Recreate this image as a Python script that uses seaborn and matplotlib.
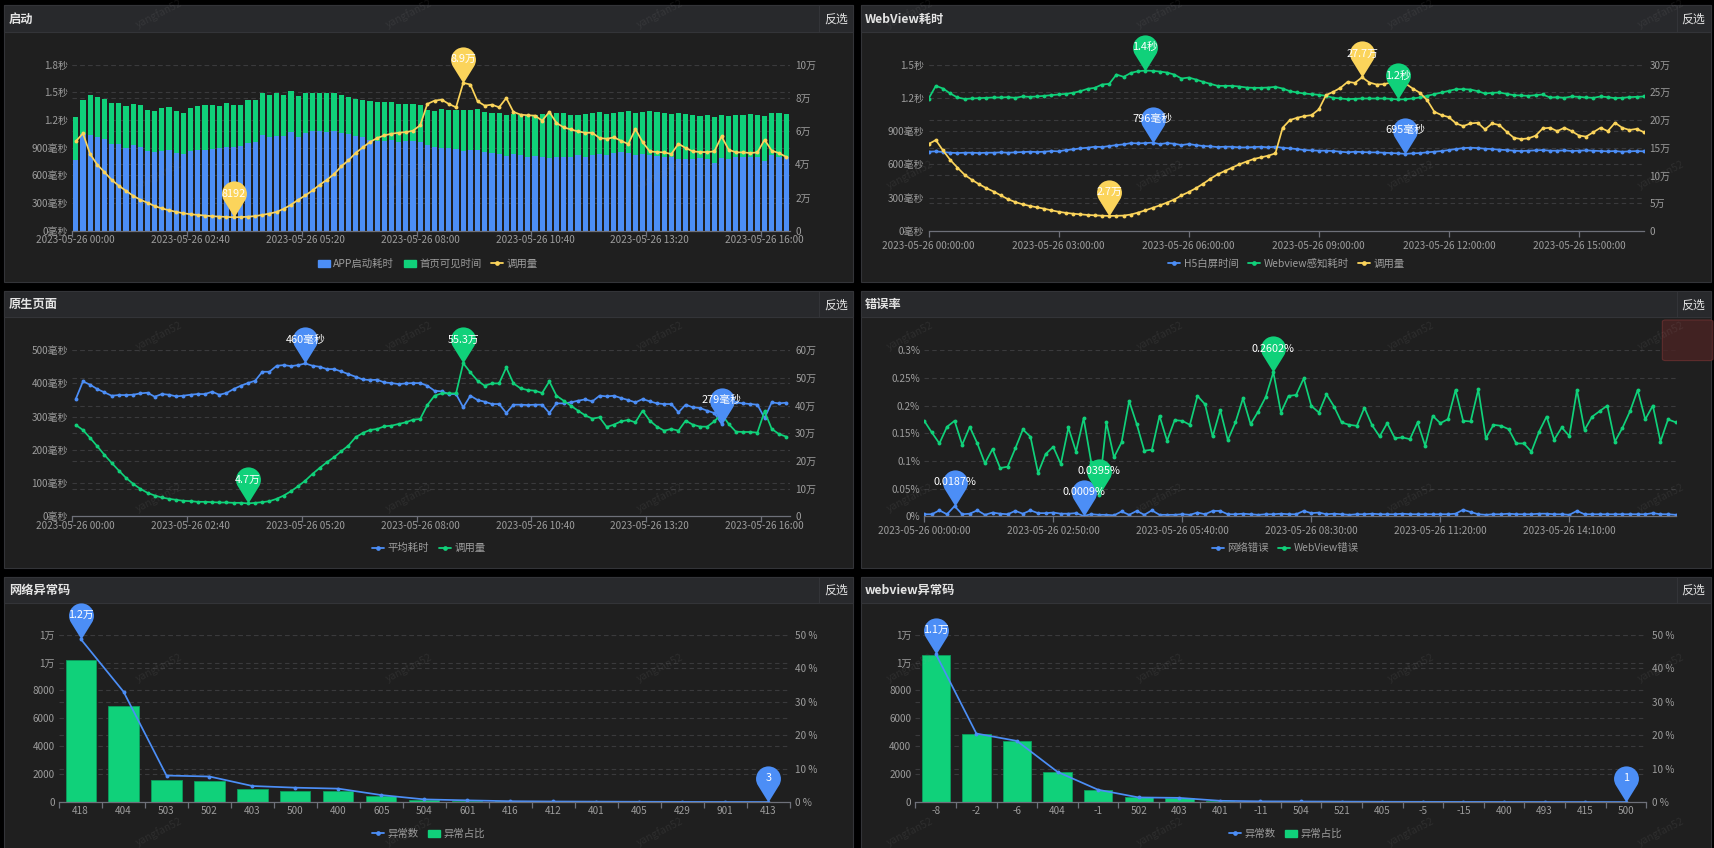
# -*- coding: utf-8 -*-
"""
dark monitoring dashboard: launch, webview, native page, error rate, error codes
"""
import numpy as np
import matplotlib
matplotlib.use("Agg")
import matplotlib.pyplot as plt
from matplotlib.path import Path
from matplotlib.lines import Line2D
from matplotlib.patches import Rectangle, Patch, FancyBboxPatch
from matplotlib.ticker import FuncFormatter
import seaborn as sns

# ---------------- data ----------------
labels_a = ["2023-05-26 00:00", "2023-05-26 02:40", "2023-05-26 05:20", "2023-05-26 08:00",
            "2023-05-26 10:40", "2023-05-26 13:20", "2023-05-26 16:00"]
labels_b = ["2023-05-26 00:00:00", "2023-05-26 03:00:00", "2023-05-26 06:00:00",
            "2023-05-26 09:00:00", "2023-05-26 12:00:00", "2023-05-26 15:00:00"]
labels_c = ["2023-05-26 00:00:00", "2023-05-26 02:50:00", "2023-05-26 05:40:00",
            "2023-05-26 08:30:00", "2023-05-26 11:20:00", "2023-05-26 14:10:00"]

# 启动 (ms, stacked) + 调用量
app_start_ms = [762, 1048, 1040, 1012, 990, 943, 943, 900, 925, 903,
                867, 856, 867, 878, 842, 831, 860, 871, 878, 889,
                896, 907, 907, 914, 950, 958, 1034, 1012, 1030, 1030,
                1066, 1019, 1063, 1077, 1077, 1066, 1077, 1063, 1052, 1023,
                1012, 987, 976, 976, 987, 961, 976, 969, 961, 925,
                903, 896, 896, 885, 867, 878, 878, 853, 838, 831,
                806, 831, 824, 802, 810, 795, 788, 802, 795, 802,
                817, 795, 824, 831, 824, 842, 853, 842, 824, 831,
                824, 806, 795, 795, 781, 773, 781, 788, 781, 737,
                788, 781, 795, 795, 799, 795, 759, 817, 802, 795]
home_visible_ms = [470, 365, 427, 437, 438, 441, 438, 448, 448, 456,
                   445, 445, 463, 463, 459, 445, 470, 477, 481, 470,
                   452, 477, 452, 445, 463, 455, 459, 455, 466, 445,
                   445, 437, 430, 419, 416, 427, 419, 412, 401, 408,
                   408, 415, 415, 419, 404, 412, 397, 408, 405, 387,
                   398, 423, 416, 420, 441, 434, 438, 434, 434, 441,
                   444, 434, 426, 448, 440, 470, 484, 470, 477, 448,
                   433, 470, 452, 456, 441, 434, 434, 459, 452, 456,
                   470, 481, 481, 470, 495, 492, 477, 452, 469, 492,
                   462, 462, 463, 463, 466, 463, 481, 455, 474, 470]
launch_calls = [53800, 58600, 46200, 39800, 35300, 30700, 27100, 24100, 21100, 18700,
                16900, 14900, 13500, 12400, 11400, 10600, 10000, 9600, 9200, 8800,
                8600, 8400, 8192, 8300, 8500, 8900, 9600, 10400, 11400, 13300,
                15700, 18700, 21300, 24300, 27700, 30700, 34100, 38800, 42400, 46800,
                50200, 53400, 55800, 57400, 58400, 59000, 59400, 60200, 63500, 76300,
                78300, 78900, 76300, 74300, 89000, 88000, 77900, 75300, 75900, 74300,
                79900, 71500, 69900, 69500, 69300, 66300, 71500, 64900, 62200, 61000,
                59800, 59000, 59000, 55800, 55400, 56200, 54200, 52200, 61200, 53400,
                47800, 47400, 47200, 46200, 52400, 49800, 47800, 47400, 47400, 47800,
                56800, 48800, 47200, 47200, 46800, 47200, 54800, 48200, 46800, 44500]

# WebView耗时
h5_white_ms = [714, 717, 711, 705, 702, 705, 705, 702, 705, 705,
               708, 705, 708, 711, 714, 711, 714, 720, 717, 729,
               735, 744, 750, 759, 756, 765, 774, 780, 792, 789,
               792, 796, 783, 792, 786, 774, 783, 774, 765, 762,
               756, 759, 759, 753, 753, 756, 759, 753, 759, 750,
               744, 738, 729, 726, 723, 723, 720, 714, 708, 714,
               711, 708, 708, 705, 702, 699, 695, 699, 702, 708,
               714, 720, 729, 738, 747, 750, 747, 741, 738, 732,
               729, 723, 720, 723, 726, 729, 723, 723, 726, 720,
               723, 726, 723, 720, 717, 720, 714, 717, 720, 717]
webview_ms = [1192, 1308, 1284, 1239, 1203, 1190, 1194, 1197, 1200, 1203,
              1203, 1206, 1200, 1212, 1209, 1212, 1218, 1224, 1230, 1236,
              1245, 1260, 1281, 1290, 1320, 1326, 1410, 1389, 1425, 1440,
              1446, 1443, 1437, 1428, 1410, 1374, 1383, 1365, 1344, 1326,
              1308, 1308, 1308, 1302, 1293, 1290, 1290, 1293, 1299, 1284,
              1260, 1248, 1239, 1233, 1227, 1218, 1200, 1194, 1188, 1191,
              1194, 1194, 1194, 1194, 1191, 1185, 1188, 1194, 1203, 1218,
              1233, 1248, 1263, 1278, 1278, 1275, 1260, 1239, 1245, 1248,
              1236, 1224, 1221, 1218, 1224, 1230, 1203, 1206, 1200, 1212,
              1209, 1203, 1200, 1212, 1206, 1197, 1200, 1206, 1209, 1212]
webview_calls = [156600, 163800, 145000, 128000, 114000, 101000, 92000, 84000, 77000, 71000,
                 64000, 57000, 52000, 48000, 45000, 42500, 40000, 37000, 34500, 32500,
                 31000, 29800, 28800, 28000, 27400, 27000, 27200, 27600, 29500, 33000,
                 37000, 41500, 46000, 51000, 56500, 64000, 70000, 77000, 85000, 94000,
                 102000, 108000, 114000, 120000, 125000, 129600, 132600, 135600, 139800, 186000,
                 199800, 204000, 207000, 208800, 219000, 244800, 250800, 258000, 268800, 267000,
                 277000, 267600, 264000, 264600, 267600, 273000, 265800, 256800, 249000, 235800,
                 214800, 208800, 205200, 193800, 189000, 193800, 195000, 183000, 193800, 190800,
                 178800, 168000, 165600, 166800, 171600, 184800, 186000, 180000, 186000, 180000,
                 172000, 170000, 178000, 186000, 180000, 195000, 186000, 182000, 184000, 178000]

# 原生页面
native_ms = [353, 406, 396, 383, 373, 363, 365, 365, 366, 370,
             372, 360, 368, 366, 361, 363, 366, 368, 368, 375,
             366, 371, 383, 393, 401, 408, 435, 435, 453, 455,
             452, 455, 460, 453, 450, 443, 443, 436, 428, 420,
             412, 410, 411, 403, 401, 398, 400, 401, 401, 393,
             378, 376, 368, 368, 328, 363, 350, 345, 338, 338,
             311, 336, 336, 335, 336, 336, 311, 340, 340, 343,
             348, 352, 346, 363, 361, 363, 356, 350, 343, 353,
             346, 340, 338, 338, 313, 336, 328, 326, 318, 311,
             279, 340, 343, 340, 338, 336, 296, 343, 340, 342]
native_calls = [330000, 312000, 283200, 253200, 222000, 193200, 165600, 139200, 117600, 99600,
                85200, 75600, 68400, 63600, 60000, 56400, 55200, 52800, 52800, 51600,
                50400, 50400, 49200, 49200, 47000, 49200, 51600, 55200, 63600, 75600,
                91200, 109200, 129600, 153600, 175200, 195600, 213600, 235200, 255600, 285600,
                301200, 312000, 315600, 325200, 327600, 333600, 339600, 349200, 351600, 402000,
                435600, 444000, 444000, 444000, 553000, 519600, 489600, 471600, 480000, 480000,
                537600, 480000, 462000, 456000, 453600, 445200, 487200, 435600, 417600, 399600,
                381600, 364800, 352800, 357600, 322800, 331200, 343200, 348000, 339600, 381600,
                345600, 324000, 309600, 315600, 309600, 345600, 331200, 324000, 324000, 343200,
                369600, 333600, 306000, 304800, 304800, 302400, 379200, 315600, 297600, 288000]

# 错误率 (%)
net_err = [0.004, 0.004, 0.011, 0.004, 0.0187, 0.004, 0.005, 0.011, 0.003, 0.007,
           0.005, 0.004, 0.010, 0.005, 0.011, 0.006, 0.006, 0.007, 0.005, 0.005,
           0.006, 0.0009, 0.004, 0.003, 0.003, 0.002, 0.009, 0.003, 0.010, 0.003,
           0.011, 0.003, 0.003, 0.003, 0.004, 0.003, 0.007, 0.004, 0.010, 0.010,
           0.004, 0.004, 0.005, 0.004, 0.003, 0.004, 0.004, 0.005, 0.004, 0.004,
           0.010, 0.006, 0.007, 0.004, 0.005, 0.004, 0.003, 0.004, 0.004, 0.005,
           0.004, 0.004, 0.004, 0.005, 0.004, 0.004, 0.004, 0.004, 0.004, 0.004,
           0.005, 0.012, 0.008, 0.004, 0.003, 0.004, 0.004, 0.005, 0.004, 0.004,
           0.004, 0.005, 0.005, 0.004, 0.004, 0.003, 0.010, 0.004, 0.004, 0.004,
           0.004, 0.004, 0.004, 0.004, 0.004, 0.004, 0.006, 0.004, 0.004, 0.003]
webview_err = [0.1725, 0.1515, 0.1317, 0.1617, 0.1725, 0.1293, 0.1617, 0.1317, 0.0958, 0.1216,
               0.0874, 0.0898, 0.1228, 0.1569, 0.1437, 0.0784, 0.1126, 0.1257, 0.0946, 0.1605,
               0.1168, 0.1772, 0.0980, 0.0395, 0.1695, 0.1066, 0.1335, 0.2084, 0.1665, 0.1186,
               0.1204, 0.1814, 0.1365, 0.1737, 0.1725, 0.1653, 0.2174, 0.2024, 0.1443, 0.1922,
               0.1377, 0.1695, 0.2132, 0.1665, 0.1892, 0.2156, 0.2602, 0.1874, 0.2174, 0.2192,
               0.2491, 0.1994, 0.1874, 0.2204, 0.1982, 0.1695, 0.1653, 0.1635, 0.1964, 0.1647,
               0.1443, 0.1683, 0.1413, 0.1425, 0.1395, 0.1695, 0.1275, 0.1814, 0.1683, 0.1754,
               0.2281, 0.1725, 0.1713, 0.2293, 0.1407, 0.1653, 0.1635, 0.1575, 0.1317, 0.1317,
               0.1168, 0.1527, 0.1802, 0.1383, 0.1605, 0.1450, 0.2280, 0.1560, 0.1800, 0.1900,
               0.2000, 0.1350, 0.1600, 0.1900, 0.2280, 0.1750, 0.2000, 0.1350, 0.1750, 0.1700]

# 网络异常码
net_codes = ["418", "404", "503", "502", "403", "500", "400", "605", "504", "601",
             "416", "412", "401", "405", "429", "901", "413"]
net_counts = [11700, 7910, 1900, 1830, 1150, 1030, 960, 500, 190, 120, 60, 40, 30, 20, 12, 8, 3]
net_share = [42.3, 28.7, 6.6, 6.4, 4.0, 3.4, 3.3, 1.7, 0.7, 0.4, 0.2, 0.14, 0.11, 0.07, 0.04, 0.03, 0.01]

# webview异常码
wv_codes = ["-8", "-2", "-6", "404", "-1", "502", "403", "401", "-11", "504",
            "521", "405", "-5", "-15", "400", "493", "415", "500"]
wv_counts = [10620, 4910, 4380, 2160, 880, 330, 300, 90, 50, 40, 30, 20, 15, 10, 8, 5, 3, 1]
wv_share = [43.8, 20.3, 18.1, 9.1, 3.6, 1.4, 1.2, 0.4, 0.2, 0.16, 0.12, 0.08, 0.06, 0.04, 0.03, 0.02, 0.01, 0.004]

# ---------------- style ----------------
BLUE = "#4c8ef6"
GREEN = "#10d17a"
YELLOW = "#fbd45b"
PANEL = "#1f1f1f"
HEAD = "#28292c"
EDGE = "#333438"
TXT = "#9c9c9c"
GRID = "#3a3a3c"
AXLINE = "#6e7079"

sns.set_theme(style="dark", rc={"figure.facecolor": "#000000", "axes.facecolor": PANEL,
                                "text.color": TXT, "xtick.color": TXT, "ytick.color": TXT})
plt.rcParams["font.family"] = ["Noto Sans CJK SC", "DejaVu Sans"]

W, H = 1568.0, 775.0          # layout measured on the screenshot
fig = plt.figure(figsize=(17.15, 8.48), dpi=100)
fig.patch.set_facecolor("#000000")


def box(x0, y0, x1, y1):
    return [x0 / W, 1 - y1 / H, (x1 - x0) / W, (y1 - y0) / H]


def frame(x0, y0, x1, y1, title):
    fig.add_artist(Rectangle((x0 / W, 1 - y1 / H), (x1 - x0) / W, (y1 - y0) / H,
                             transform=fig.transFigure, facecolor=PANEL, edgecolor=EDGE, lw=0.8, zorder=-5))
    fig.add_artist(Rectangle((x0 / W, 1 - (y0 + 24) / H), (x1 - x0) / W, 24 / H,
                             transform=fig.transFigure, facecolor=HEAD, edgecolor=EDGE, lw=0.8, zorder=-4))
    fig.add_artist(Line2D([(x1 - 31) / W] * 2, [1 - y0 / H, 1 - (y0 + 24) / H],
                          transform=fig.transFigure, color=EDGE, lw=0.8, zorder=-3))
    fig.text((x0 + 4) / W, 1 - (y0 + 12.5) / H, title, color="#e4e4e4", fontsize=8.8,
             fontweight="bold", ha="left", va="center")
    fig.text((x1 - 15.5) / W, 1 - (y0 + 12.5) / H, "反选", color="#e4e4e4", fontsize=8.6,
             ha="center", va="center")


def make_pin(d=1.9):
    a = np.degrees(np.arccos(1.0 / d))
    arc = Path.arc(-90 + a, 270 - a)
    verts = np.vstack([[0.0, 0.0], arc.vertices + [0.0, d], [0.0, 0.0]])
    codes = np.concatenate([[Path.MOVETO, Path.LINETO], arc.codes[1:], [Path.CLOSEPOLY]])
    return Path(verts, codes), d, np.abs(verts).max()


PIN, PIN_D, PIN_MAX = make_pin()
PIN_MS = 52


def pin(ax, x, y, color, text):
    ax.plot([x], [y], marker=PIN, ms=PIN_MS, color=color, mew=0, ls="none",
            clip_on=False, zorder=20)
    off = PIN_D * 0.5 / PIN_MAX * PIN_MS
    ax.annotate(text, (x, y), xytext=(0, off), textcoords="offset points", ha="center",
                va="center", color="white", fontsize=7.8, zorder=21, annotation_clip=False)


def fmt_ms(v, pos=None):
    return f"{v / 1000:g}秒" if v >= 1000 else f"{v:.0f}毫秒"


def fmt_wan(v, pos=None):
    return "0" if v == 0 else f"{v / 10000:g}万"


def pin_ms(v):
    return f"{v / 1000:.1f}秒" if v >= 1000 else f"{v:.0f}毫秒"


def pin_wan(v):
    if v >= 10000:
        return f"{v / 10000:.1f}".rstrip("0").rstrip(".") + "万"
    return f"{v:.0f}"


def style(ax):
    for s in ["top", "left", "right"]:
        ax.spines[s].set_visible(False)
    ax.spines["bottom"].set_color(AXLINE)
    ax.spines["bottom"].set_linewidth(0.9)
    ax.tick_params(axis="y", which="both", length=0, labelsize=7.2, labelcolor=TXT, pad=3)
    ax.tick_params(axis="x", which="both", bottom=True, color=AXLINE, labelsize=7.2,
                   labelcolor=TXT, pad=3, width=0.9)
    ax.tick_params(axis="x", which="major", length=0)
    ax.tick_params(axis="x", which="minor", length=4)
    ax.grid(False)
    ax.patch.set_alpha(0)


def style_right(ax2):
    for s in ["top", "left", "right", "bottom"]:
        ax2.spines[s].set_visible(False)
    ax2.tick_params(axis="y", length=0, labelsize=7.2, labelcolor=TXT, pad=4, right=True)
    ax2.grid(False)
    ax2.patch.set_alpha(0)


def hgrid(ax, ys):
    for y in ys:
        if y > 0:
            ax.axhline(y, color=GRID, lw=0.8, ls=(0, (4, 3)), zorder=0)


def legend(cx, cy, handles, labels):
    fig.legend(handles, labels, loc="center", bbox_to_anchor=(cx / W, 1 - cy / H),
               ncol=len(labels), frameon=False, fontsize=7.5, labelcolor=TXT,
               handlelength=1.15, handleheight=0.7, handletextpad=0.35, columnspacing=0.9)


def line_handle(c):
    return Line2D([], [], color=c, lw=1.3, marker="o", ms=3.4, mew=0)


def draw_line(ax, xs, ys, c):
    sns.lineplot(x=xs, y=ys, ax=ax, color=c, lw=1.25, marker="o", markersize=2.8,
                 markeredgewidth=0, legend=False)


# ---------------- panel frames ----------------
frame(4, 5, 780, 258, "启动")
frame(787, 5, 1564, 258, "WebView耗时")
frame(4, 266, 780, 519, "原生页面")
frame(787, 266, 1564, 519, "错误率")
frame(4, 527, 780, 790, "网络异常码")
frame(787, 527, 1564, 790, "webview异常码")

n = len(app_start_ms)
idx = np.arange(n)

# ---------------- 启动 ----------------
ax = fig.add_axes(box(66, 59, 722, 211))
ax2 = ax.twinx()
style(ax); style_right(ax2)
ax.bar(idx, app_start_ms, width=0.72, color=BLUE, lw=0, zorder=2)
ax.bar(idx, home_visible_ms, bottom=app_start_ms, width=0.72, color=GREEN, lw=0, zorder=2)
draw_line(ax2, idx, launch_calls, YELLOW)
ax.set_xlim(-0.5, n - 0.5); ax.set_ylim(0, 1800); ax2.set_ylim(0, 100000)
ax.set_yticks(np.arange(0, 1801, 300)); ax2.set_yticks(np.arange(0, 100001, 20000))
ax.yaxis.set_major_formatter(FuncFormatter(fmt_ms)); ax2.yaxis.set_major_formatter(FuncFormatter(fmt_wan))
hgrid(ax, list(np.arange(0, 1801, 300)) + list(np.arange(0, 100001, 20000) * 1800 / 100000))
ax.set_xticks(np.arange(0, n, 16)); ax.set_xticklabels(labels_a)
ax.set_xticks(np.arange(0, n, 16) - 0.5, minor=True)
k = int(np.argmax(launch_calls)); pin(ax2, k, launch_calls[k], YELLOW, pin_wan(launch_calls[k]))
k = int(np.argmin(launch_calls)); pin(ax2, k, launch_calls[k], YELLOW, pin_wan(launch_calls[k]))
legend(391, 241, [Patch(color=BLUE), Patch(color=GREEN), line_handle(YELLOW)],
       ["APP启动耗时", "首页可见时间", "调用量"])

# ---------------- WebView耗时 ----------------
ax = fig.add_axes(box(849, 59, 1503, 211))
ax2 = ax.twinx()
style(ax); style_right(ax2)
ax.tick_params(axis="x", which="major", length=4)
draw_line(ax, idx, h5_white_ms, BLUE)
draw_line(ax, idx, webview_ms, GREEN)
draw_line(ax2, idx, webview_calls, YELLOW)
ax.set_xlim(0, n - 1); ax.set_ylim(0, 1500); ax2.set_ylim(0, 300000)
ax.set_yticks(np.arange(0, 1501, 300)); ax2.set_yticks(np.arange(0, 300001, 50000))
ax.yaxis.set_major_formatter(FuncFormatter(fmt_ms)); ax2.yaxis.set_major_formatter(FuncFormatter(fmt_wan))
hgrid(ax, list(np.arange(0, 1501, 300)) + list(np.arange(0, 300001, 50000) * 1500 / 300000))
ax.set_xticks(np.arange(0, n, 18)); ax.set_xticklabels(labels_b)
kk = 300000 / 1500
for arr, c in [(webview_ms, GREEN), (h5_white_ms, BLUE)]:
    for k in [int(np.argmax(arr)), int(np.argmin(arr))]:
        pin(ax2, k, arr[k] * kk, c, pin_ms(arr[k]))
for k in [int(np.argmax(webview_calls)), int(np.argmin(webview_calls))]:
    pin(ax2, k, webview_calls[k], YELLOW, pin_wan(webview_calls[k]))
legend(1176, 241, [line_handle(BLUE), line_handle(GREEN), line_handle(YELLOW)],
       ["H5白屏时间", "Webview感知耗时", "调用量"])

# ---------------- 原生页面 ----------------
ax = fig.add_axes(box(66, 320, 722, 472))
ax2 = ax.twinx()
style(ax); style_right(ax2)
draw_line(ax, idx, native_ms, BLUE)
draw_line(ax2, idx, native_calls, GREEN)
ax.set_xlim(-0.5, n - 0.5); ax.set_ylim(0, 500); ax2.set_ylim(0, 600000)
ax.set_yticks(np.arange(0, 501, 100)); ax2.set_yticks(np.arange(0, 600001, 100000))
ax.yaxis.set_major_formatter(FuncFormatter(fmt_ms)); ax2.yaxis.set_major_formatter(FuncFormatter(fmt_wan))
hgrid(ax, list(np.arange(0, 501, 100)) + list(np.arange(0, 600001, 100000) * 500 / 600000))
ax.set_xticks(np.arange(0, n, 16)); ax.set_xticklabels(labels_a)
ax.set_xticks(np.arange(0, n, 16) - 0.5, minor=True)
kk = 600000 / 500
for k in [int(np.argmax(native_ms)), int(np.argmin(native_ms))]:
    pin(ax2, k, native_ms[k] * kk, BLUE, pin_ms(native_ms[k]))
for k in [int(np.argmax(native_calls)), int(np.argmin(native_calls))]:
    pin(ax2, k, native_calls[k], GREEN, pin_wan(native_calls[k]))
legend(392, 501, [line_handle(BLUE), line_handle(GREEN)], ["平均耗时", "调用量"])

# ---------------- 错误率 ----------------
ax = fig.add_axes(box(845, 320, 1532, 472))
style(ax)
ax.tick_params(axis="x", which="major", length=4)
draw_line(ax, idx, net_err, BLUE)
draw_line(ax, idx, webview_err, GREEN)
ax.set_xlim(0, n - 1); ax.set_ylim(0, 0.3)
ax.set_yticks(np.arange(0, 0.301, 0.05))
ax.yaxis.set_major_formatter(FuncFormatter(lambda v, p: f"{round(v, 3):g}%"))
hgrid(ax, np.arange(0, 0.301, 0.05))
ax.set_xticks(np.arange(0, n, 17)); ax.set_xticklabels(labels_c)
for arr, c in [(net_err, BLUE), (webview_err, GREEN)]:
    for k in [int(np.argmax(arr)), int(np.argmin(arr))]:
        pin(ax, k, arr[k], c, f"{arr[k]:.4f}%")
legend(1175, 501, [line_handle(BLUE), line_handle(GREEN)], ["网络错误", "WebView错误"])


# ---------------- 异常码 panels ----------------
def code_panel(rect, codes, counts, share, cx):
    ax = fig.add_axes(box(*rect))
    ax2 = ax.twinx()
    style(ax); style_right(ax2)
    ax.set_zorder(3); ax2.set_zorder(2)
    ax.patch.set_visible(False)
    m = len(codes)
    sns.barplot(x=codes, y=share, order=codes, ax=ax2, color=GREEN, width=0.7,
                saturation=1, edgecolor="#0b9d5c", linewidth=0.6)
    draw_line(ax, np.arange(m), counts, BLUE)
    ax.set_xlim(-0.5, m - 0.5)
    ax.set_ylim(0, 12000); ax2.set_ylim(0, 50)
    ax.set_yticks(np.arange(0, 12001, 2000)); ax2.set_yticks(np.arange(0, 51, 10))
    ax.yaxis.set_major_formatter(FuncFormatter(
        lambda v, p: f"{v / 10000:.0f}万" if v >= 10000 else f"{v:.0f}"))
    ax2.yaxis.set_major_formatter(FuncFormatter(lambda v, p: f"{v:.0f} %"))
    ax2.set_xlabel(""); ax2.set_ylabel(""); ax.set_xlabel(""); ax.set_ylabel("")
    hgrid(ax2, list(np.arange(0, 51, 10)) + list(np.arange(0, 12001, 2000) * 50 / 12000))
    ax.set_xticks(np.arange(m)); ax.set_xticklabels(codes)
    ax.set_xticks(np.arange(m + 1) - 0.5, minor=True)
    for k in [int(np.argmax(counts)), int(np.argmin(counts))]:
        pin(ax, k, counts[k], BLUE, pin_wan(counts[k]))
    legend(cx, 762, [line_handle(BLUE), Patch(color=GREEN)], ["异常数", "异常占比"])


code_panel((54, 580, 722, 733), net_codes, net_counts, net_share, 392)
code_panel((837, 580, 1505, 733), wv_codes, wv_counts, wv_share, 1175)

# small browser badge at the right edge of the screenshot
fig.add_artist(FancyBboxPatch((1523 / W, 1 - 328 / H), 40 / W, 34 / H,
                              boxstyle="round,pad=0.002", transform=fig.transFigure,
                              facecolor="#4a2323", edgecolor="#6a3030", lw=0.8, alpha=0.8, zorder=25))

# ---------------- watermark ----------------
for wy in [12, 160, 307, 455, 610, 760]:
    for wx in [145, 374, 603, 832, 1061, 1290, 1519]:
        fig.text(wx / W, 1 - wy / H, "yangfan52", rotation=27, color="#9a9a9a", alpha=0.12,
                 fontsize=7.5, ha="center", va="center", zorder=30)

fig.savefig("out.png", dpi=100, facecolor=fig.get_facecolor())
